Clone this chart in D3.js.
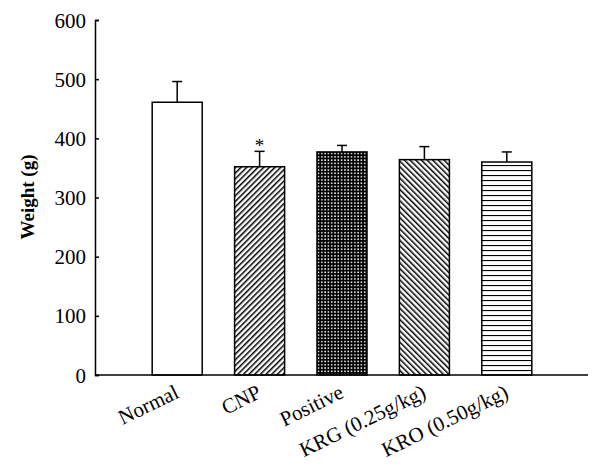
<!DOCTYPE html>
<html>
<head>
<meta charset="utf-8">
<script src="https://cdn.jsdelivr.net/npm/d3@7"></script>
<style>
  body { margin: 0; background: #fff; }
  svg { display: block; }
  text { font-family: "Liberation Serif", "DejaVu Serif", serif; fill: #000; }
</style>
</head>
<body>
<svg id="chart" width="602" height="470"></svg>
<script>
// data
const groups = ['Normal', 'CNP', 'Positive', 'KRG (0.25g/kg)', 'KRO (0.50g/kg)'];
const weights = [461, 352, 377, 364, 360];
const errors = [35, 26, 11, 22, 17];
const marks = ['', '*', '', '', ''];
const fills = ['white', 'url(#diagUp)', 'url(#dots)', 'url(#diagDown)', 'url(#horiz)'];
const yTicks = [0, 100, 200, 300, 400, 500, 600];

const svg = d3.select('#chart');

// hatch patterns
const defs = svg.append('defs');
const up = defs.append('pattern').attr('id', 'diagUp')
  .attr('patternUnits', 'userSpaceOnUse').attr('width', 4).attr('height', 4)
  .attr('patternTransform', 'rotate(45)');
up.append('rect').attr('width', 4).attr('height', 4).attr('fill', '#fff');
up.append('line').attr('x1', 0).attr('y1', 0).attr('x2', 0).attr('y2', 4)
  .attr('stroke', '#000').attr('stroke-width', 3);

const down = defs.append('pattern').attr('id', 'diagDown')
  .attr('patternUnits', 'userSpaceOnUse').attr('width', 4).attr('height', 4)
  .attr('patternTransform', 'rotate(-45)');
down.append('rect').attr('width', 4).attr('height', 4).attr('fill', '#fff');
down.append('line').attr('x1', 0).attr('y1', 0).attr('x2', 0).attr('y2', 4)
  .attr('stroke', '#000').attr('stroke-width', 3);

const dots = defs.append('pattern').attr('id', 'dots')
  .attr('patternUnits', 'userSpaceOnUse').attr('width', 3.3).attr('height', 3.3);
dots.append('rect').attr('width', 3.3).attr('height', 3.3).attr('fill', '#000');
dots.append('rect').attr('x', 1).attr('y', 1).attr('width', 1.5).attr('height', 1.5).attr('fill', '#fff');

const horiz = defs.append('pattern').attr('id', 'horiz')
  .attr('patternUnits', 'userSpaceOnUse').attr('width', 5).attr('height', 5);
horiz.append('rect').attr('width', 5).attr('height', 5).attr('fill', '#fff');
horiz.append('line').attr('x1', 0).attr('y1', 0.5).attr('x2', 5).attr('y2', 0.5)
  .attr('stroke', '#000').attr('stroke-width', 1.2);

const x = d3.scaleBand()
  .domain(groups)
  .range([136, 548])
  .paddingInner(0.393)
  .paddingOuter(0.1965);

const y = d3.scaleLinear()
  .domain([0, 600])
  .range([375, 20]);

// bars
svg.append('g')
  .selectAll('rect')
  .data(groups)
  .join('rect')
  .attr('x', d => x(d))
  .attr('y', (d, i) => y(weights[i]))
  .attr('width', x.bandwidth())
  .attr('height', (d, i) => y(0) - y(weights[i]))
  .attr('fill', (d, i) => fills[i])
  .attr('stroke', '#000')
  .attr('stroke-width', 1.5);

// error bars (upper only)
const err = svg.append('g').attr('stroke', '#000').attr('stroke-width', 1.5);
groups.forEach((g, i) => {
  const cx = x(g) + x.bandwidth() / 2;
  err.append('line').attr('x1', cx).attr('x2', cx)
    .attr('y1', y(weights[i])).attr('y2', y(weights[i] + errors[i]));
  err.append('line').attr('x1', cx - 5).attr('x2', cx + 5)
    .attr('y1', y(weights[i] + errors[i])).attr('y2', y(weights[i] + errors[i]));
  if (marks[i]) {
    svg.append('text')
      .attr('x', cx).attr('y', y(weights[i] + errors[i]) + 1)
      .attr('text-anchor', 'middle')
      .attr('font-size', '19px')
      .text(marks[i]);
  }
});

// y axis, ticks pointing inside
const yAxis = svg.append('g')
  .attr('transform', 'translate(95,0)')
  .call(d3.axisRight(y).tickValues(yTicks).tickSize(4).tickFormat(d3.format('d')));
yAxis.select('.domain').attr('stroke-width', 1.5);
yAxis.selectAll('.tick line').attr('stroke-width', 1.5);
yAxis.selectAll('.tick text')
  .attr('x', -9)
  .attr('dy', '0.34em')
  .attr('text-anchor', 'end')
  .attr('font-size', '21px')
  .attr('font-family', '"Liberation Serif", serif');

// x axis line
svg.append('line')
  .attr('x1', 95).attr('x2', 588)
  .attr('y1', y(0)).attr('y2', y(0))
  .attr('stroke', '#000').attr('stroke-width', 1.5);

// x labels, rotated
svg.append('g')
  .selectAll('text')
  .data(groups)
  .join('text')
  .attr('text-anchor', 'end')
  .attr('font-size', '21px')
  .attr('transform', d => `translate(${x(d) + x.bandwidth() / 2 + 3},${397}) rotate(-26)`)
  .text(d => d);

// y title
svg.append('text')
  .attr('transform', 'translate(34,197) rotate(-90)')
  .attr('text-anchor', 'middle')
  .attr('font-weight', 'bold')
  .attr('font-size', '19px')
  .text('Weight (g)');
</script>
</body>
</html>
